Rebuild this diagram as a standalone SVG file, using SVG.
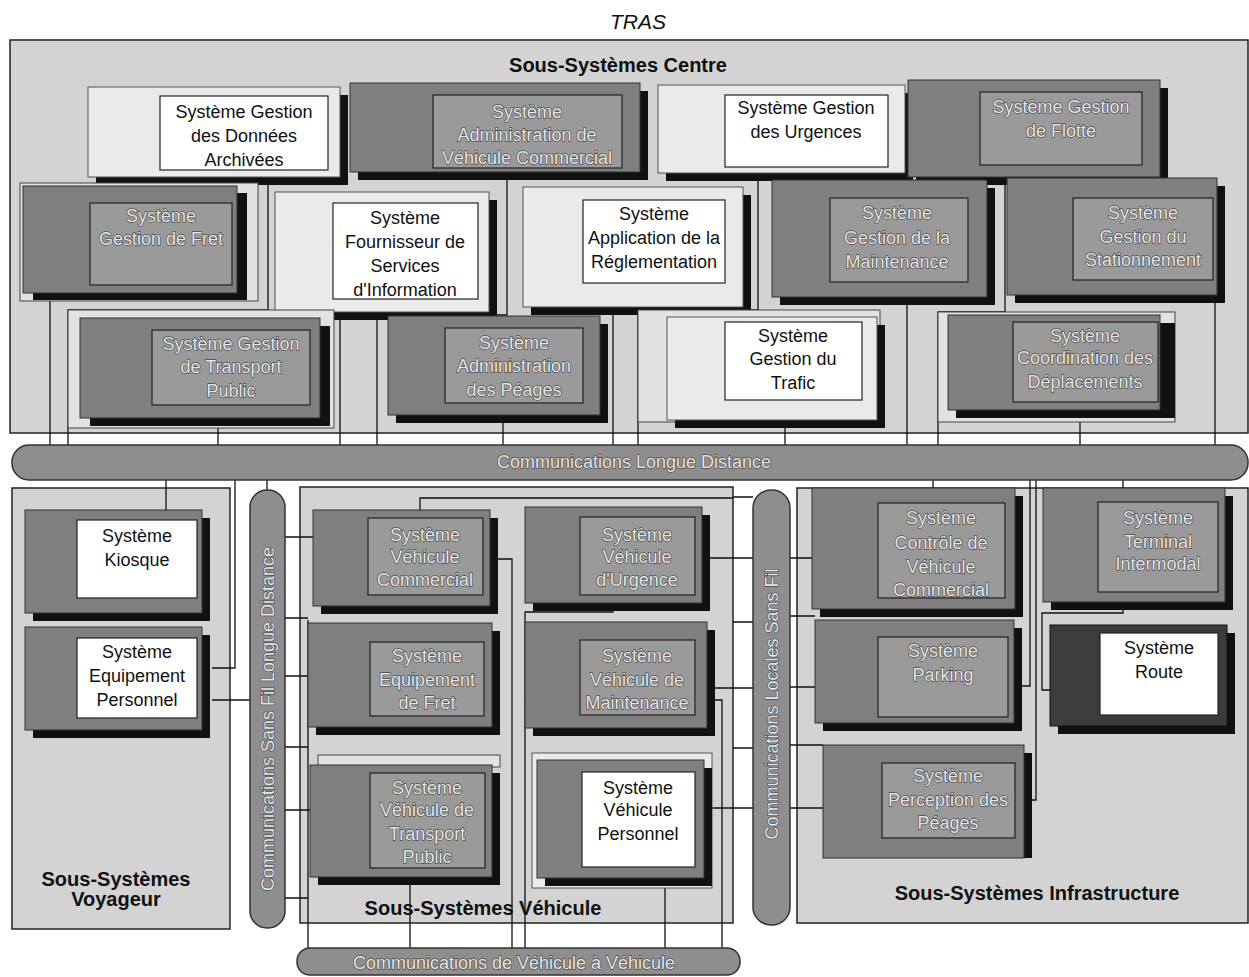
<svg xmlns="http://www.w3.org/2000/svg" width="1249" height="977" viewBox="0 0 1249 977">
<style>
.bg{fill:#ffffff}
.area{fill:#d3d3d3;stroke:#222;stroke-width:1.5}
.frame{fill:#e2e2e2;stroke:#444;stroke-width:1}
.pl{fill:#eaeaea;stroke:#555;stroke-width:1}
.pd{fill:#7f7f7f;stroke:#333;stroke-width:1}
.pk{fill:#3c3c3c;stroke:#111;stroke-width:1}
.sh{fill:#111}
.ind{fill:#9a9a9a;stroke:#222;stroke-width:1.2}
.inw{fill:#ffffff;stroke:#222;stroke-width:1.2}
.bus{fill:#8e8e8e;stroke:#333;stroke-width:1.5}
.tw{font-family:"Liberation Sans",Arial,sans-serif;font-size:18px;fill:#111;text-anchor:middle}
.tl{font-family:"Liberation Sans",Arial,sans-serif;font-size:18px;fill:#e6e6e6;stroke:#4a4a4a;stroke-width:1.3;paint-order:stroke;text-anchor:middle}
.tt{font-family:"Liberation Sans",Arial,sans-serif;font-size:20px;font-weight:bold;fill:#111;text-anchor:middle}
.ti{font-family:"Liberation Sans",Arial,sans-serif;font-size:21px;font-style:italic;fill:#111;text-anchor:middle}
.ln{fill:none;stroke:#111;stroke-width:1.3}
</style>
<rect class="bg" x="0" y="0" width="1249" height="977"/>
<text class="ti" x="638" y="29">TRAS</text>

<!-- Areas -->
<g id="area-centre">
<rect class="area" x="10" y="40" width="1238" height="393"/>
<text class="tt" x="618" y="72">Sous-Systèmes Centre</text>
</g>
<g id="area-voyageur">
<rect class="area" x="12" y="488" width="218" height="441"/>
<text class="tt" x="116" y="886">Sous-Systèmes</text>
<text class="tt" x="116" y="906">Voyageur</text>
</g>
<g id="area-vehicule">
<rect class="area" x="300" y="487" width="433" height="436"/>
<text class="tt" x="483" y="915">Sous-Systèmes Véhicule</text>
</g>
<g id="area-infra">
<rect class="area" x="797" y="488" width="451" height="435"/>
<text class="tt" x="1037" y="900">Sous-Systèmes Infrastructure</text>
</g>

<!-- Connectors -->
<g id="connectors">
<path class="ln" d="M50 300V445 M268 178V310H68V445 M218 418V445 M340 312V445 M507 180V315H377V445 M503 415V445 M613 307V445 M758 174V310H638V445 M785 400V445 M907 297V445 M1005 178V312H938V445 M1080 410V445 M1215 295V445"/>
<path class="ln" d="M166 480V510 M235 480V668H212 M267 480V490 M212 700H250"/>
<path class="ln" d="M933 480V488 M1123 480V488 M1030 480V686H1022 M1036 480V800H1032 M1123 610V613H1042V690H1050"/>
<path class="ln" d="M285 537H313 M285 618H308 M285 676H310 M285 747H308 M285 810H310 M285 898H308"/>
<path class="ln" d="M420 512V498H733 M733 497H753 M710 558H753 M733 622H753 M715 688H753 M733 748H753 M712 808H753"/>
<path class="ln" d="M790 558H812 M790 616H815 M790 687H815 M790 745H823 M790 808H823"/>
<path class="ln" d="M308 620V948 M410 883V948 M497 559H512V948 M613 608V612H525V948 M665 888V948 M715 700H722V948"/>
</g>

<!-- Buses -->
<g id="bus-longue">
<rect class="bus" x="12" y="445" width="1236" height="35" rx="17"/>
<text class="tl" x="634" y="468">Communications Longue Distance</text>
</g>
<g id="bus-sansfil">
<rect class="bus" x="250" y="490" width="35" height="438" rx="17"/>
<text class="tl" transform="translate(274 719) rotate(-90)">Communications Sans Fil Longue Distance</text>
</g>
<g id="bus-locales">
<rect class="bus" x="753" y="490" width="37" height="435" rx="18"/>
<text class="tl" transform="translate(778 704) rotate(-90)">Communications Locales Sans Fil</text>
</g>
<g id="bus-vv">
<rect class="bus" x="297" y="948" width="443" height="27" rx="13"/>
<text class="tl" x="514" y="969">Communications de Véhicule à Véhicule</text>
</g>

<!-- Centre nodes -->
<g id="n-archives">
<rect class="sh" x="96" y="95" width="252" height="90"/>
<rect class="pl" x="88" y="87" width="252" height="90"/>
<rect class="inw" x="160" y="96" width="168" height="74"/>
<text class="tw"><tspan x="244" y="118">Système Gestion</tspan><tspan x="244" y="142">des Données</tspan><tspan x="244" y="166">Archivées</tspan></text>
</g>
<g id="n-admin-vc">
<rect class="sh" x="358" y="91" width="290" height="89"/>
<rect class="pd" x="350" y="83" width="290" height="89"/>
<rect class="ind" x="433" y="95" width="189" height="73"/>
<text class="tl"><tspan x="527" y="118">Système</tspan><tspan x="527" y="141">Administration de</tspan><tspan x="527" y="164">Véhicule Commercial</tspan></text>
</g>
<g id="n-urgences">
<rect class="sh" x="666" y="93" width="247" height="88"/>
<rect class="pl" x="658" y="85" width="247" height="88"/>
<rect class="inw" x="725" y="95" width="163" height="72"/>
<text class="tw"><tspan x="806" y="114">Système Gestion</tspan><tspan x="806" y="138">des Urgences</tspan></text>
</g>
<g id="n-flotte">
<rect class="sh" x="916" y="88" width="252" height="97"/>
<rect class="pd" x="908" y="80" width="252" height="97"/>
<rect class="ind" x="980" y="92" width="162" height="73"/>
<text class="tl"><tspan x="1061" y="113">Système Gestion</tspan><tspan x="1061" y="137">de Flotte</tspan></text>
</g>
<g id="n-fret">
<rect class="frame" x="20" y="183" width="238" height="118"/>
<rect class="sh" x="33" y="193" width="214" height="107"/>
<rect class="pd" x="23" y="186" width="214" height="107"/>
<rect class="ind" x="90" y="203" width="142" height="82"/>
<text class="tl"><tspan x="161" y="222">Système</tspan><tspan x="161" y="245">Gestion de Fret</tspan></text>
</g>
<g id="n-fournisseur">
<rect class="sh" x="283" y="200" width="214" height="120"/>
<rect class="pl" x="275" y="192" width="214" height="120"/>
<rect class="inw" x="333" y="203" width="145" height="96"/>
<text class="tw"><tspan x="405" y="224">Système</tspan><tspan x="405" y="248">Fournisseur de</tspan><tspan x="405" y="272">Services</tspan><tspan x="405" y="296">d'Information</tspan></text>
</g>
<g id="n-application">
<rect class="sh" x="531" y="195" width="220" height="120"/>
<rect class="pl" x="523" y="187" width="220" height="120"/>
<rect class="inw" x="583" y="200" width="142" height="83"/>
<text class="tw"><tspan x="654" y="220">Système</tspan><tspan x="654" y="244">Application de la</tspan><tspan x="654" y="268">Réglementation</tspan></text>
</g>
<g id="n-maintenance">
<rect class="sh" x="780" y="188" width="215" height="117"/>
<rect class="pd" x="772" y="180" width="215" height="117"/>
<rect class="ind" x="830" y="198" width="138" height="84"/>
<text class="tl"><tspan x="897" y="219">Système</tspan><tspan x="897" y="244">Gestion de la</tspan><tspan x="897" y="268">Maintenance</tspan></text>
</g>
<g id="n-stationnement">
<rect class="sh" x="1015" y="186" width="210" height="117"/>
<rect class="pd" x="1007" y="178" width="210" height="117"/>
<rect class="ind" x="1073" y="198" width="140" height="82"/>
<text class="tl"><tspan x="1143" y="219">Système</tspan><tspan x="1143" y="243">Gestion du</tspan><tspan x="1143" y="266">Stationnement</tspan></text>
</g>
<g id="n-transport-public">
<rect class="frame" x="68" y="310" width="266" height="118"/>
<rect class="sh" x="90" y="326" width="240" height="100"/>
<rect class="pd" x="80" y="318" width="240" height="100"/>
<rect class="ind" x="152" y="330" width="158" height="75"/>
<text class="tl"><tspan x="231" y="350">Système Gestion</tspan><tspan x="231" y="373">de Transport</tspan><tspan x="231" y="397">Public</tspan></text>
</g>
<g id="n-admin-peages">
<rect class="sh" x="396" y="324" width="212" height="99"/>
<rect class="pd" x="388" y="316" width="212" height="99"/>
<rect class="ind" x="445" y="328" width="138" height="75"/>
<text class="tl"><tspan x="514" y="349">Système</tspan><tspan x="514" y="372">Administration</tspan><tspan x="514" y="396">des Péages</tspan></text>
</g>
<g id="n-trafic">
<rect class="frame" x="638" y="310" width="242" height="112"/>
<rect class="sh" x="675" y="325" width="210" height="103"/>
<rect class="pl" x="667" y="317" width="210" height="103"/>
<rect class="inw" x="725" y="322" width="137" height="78"/>
<text class="tw"><tspan x="793" y="342">Système</tspan><tspan x="793" y="365">Gestion du</tspan><tspan x="793" y="389">Trafic</tspan></text>
</g>
<g id="n-coordination">
<rect class="frame" x="938" y="312" width="237" height="110"/>
<rect class="sh" x="956" y="323" width="219" height="95"/>
<rect class="pd" x="948" y="315" width="212" height="95"/>
<rect class="ind" x="1013" y="322" width="145" height="80"/>
<text class="tl"><tspan x="1085" y="342">Système</tspan><tspan x="1085" y="364">Coordination des</tspan><tspan x="1085" y="388">Déplacements</tspan></text>
</g>

<!-- Voyageur nodes -->
<g id="n-kiosque">
<rect class="sh" x="33" y="518" width="177" height="103"/>
<rect class="pd" x="25" y="510" width="177" height="103"/>
<rect class="inw" x="77" y="520" width="120" height="78"/>
<text class="tw"><tspan x="137" y="542">Système</tspan><tspan x="137" y="566">Kiosque</tspan></text>
</g>
<g id="n-equip-perso">
<rect class="sh" x="33" y="635" width="177" height="103"/>
<rect class="pd" x="25" y="627" width="177" height="103"/>
<rect class="inw" x="77" y="638" width="120" height="80"/>
<text class="tw"><tspan x="137" y="658">Système</tspan><tspan x="137" y="682">Equipement</tspan><tspan x="137" y="706">Personnel</tspan></text>
</g>

<!-- Vehicle nodes -->
<g id="n-veh-commercial">
<rect class="sh" x="321" y="518" width="177" height="96"/>
<rect class="pd" x="313" y="510" width="177" height="96"/>
<rect class="ind" x="368" y="518" width="115" height="77"/>
<text class="tl"><tspan x="425" y="541">Système</tspan><tspan x="425" y="563">Véhicule</tspan><tspan x="425" y="586">Commercial</tspan></text>
</g>
<g id="n-veh-urgence">
<rect class="sh" x="533" y="515" width="177" height="96"/>
<rect class="pd" x="525" y="507" width="177" height="96"/>
<rect class="ind" x="580" y="517" width="115" height="78"/>
<text class="tl"><tspan x="637" y="541">Système</tspan><tspan x="637" y="563">Véhicule</tspan><tspan x="637" y="586">d'Urgence</tspan></text>
</g>
<g id="n-equip-fret">
<rect class="sh" x="316" y="631" width="184" height="104"/>
<rect class="pd" x="308" y="623" width="184" height="104"/>
<rect class="ind" x="370" y="642" width="114" height="74"/>
<text class="tl"><tspan x="427" y="662">Système</tspan><tspan x="427" y="686">Equipement</tspan><tspan x="427" y="709">de Fret</tspan></text>
</g>
<g id="n-veh-maintenance">
<rect class="sh" x="533" y="630" width="182" height="106"/>
<rect class="pd" x="525" y="622" width="182" height="106"/>
<rect class="ind" x="580" y="640" width="115" height="75"/>
<text class="tl"><tspan x="637" y="662">Système</tspan><tspan x="637" y="686">Véhicule de</tspan><tspan x="637" y="709">Maintenance</tspan></text>
</g>
<g id="n-veh-transport">
<rect class="frame" x="318" y="755" width="182" height="12"/>
<rect class="sh" x="318" y="773" width="182" height="112"/>
<rect class="pd" x="310" y="765" width="182" height="112"/>
<rect class="ind" x="370" y="773" width="115" height="95"/>
<text class="tl"><tspan x="427" y="794">Système</tspan><tspan x="427" y="816">Véhicule de</tspan><tspan x="427" y="840">Transport</tspan><tspan x="427" y="863">Public</tspan></text>
</g>
<g id="n-veh-personnel">
<rect class="pl" x="532" y="753" width="180" height="135"/>
<rect class="sh" x="545" y="768" width="167" height="118"/>
<rect class="pd" x="537" y="760" width="167" height="118"/>
<rect class="inw" x="582" y="772" width="113" height="95"/>
<text class="tw"><tspan x="638" y="794">Système</tspan><tspan x="638" y="816">Véhicule</tspan><tspan x="638" y="840">Personnel</tspan></text>
</g>

<!-- Infrastructure nodes -->
<g id="n-controle">
<rect class="sh" x="820" y="496" width="203" height="121"/>
<rect class="pd" x="812" y="488" width="203" height="121"/>
<rect class="ind" x="878" y="503" width="127" height="95"/>
<text class="tl"><tspan x="941" y="524">Système</tspan><tspan x="941" y="549">Contrôle de</tspan><tspan x="941" y="573">Véhicule</tspan><tspan x="941" y="596">Commercial</tspan></text>
</g>
<g id="n-terminal">
<rect class="sh" x="1051" y="496" width="182" height="114"/>
<rect class="pd" x="1043" y="488" width="182" height="114"/>
<rect class="ind" x="1098" y="502" width="120" height="90"/>
<text class="tl"><tspan x="1158" y="524">Système</tspan><tspan x="1158" y="548">Terminal</tspan><tspan x="1158" y="570">Intermodal</tspan></text>
</g>
<g id="n-parking">
<rect class="sh" x="823" y="628" width="199" height="103"/>
<rect class="pd" x="815" y="620" width="199" height="103"/>
<rect class="ind" x="878" y="637" width="130" height="80"/>
<text class="tl"><tspan x="943" y="657">Système</tspan><tspan x="943" y="681">Parking</tspan></text>
</g>
<g id="n-route">
<rect class="sh" x="1058" y="633" width="177" height="101"/>
<rect class="pk" x="1050" y="625" width="177" height="101"/>
<rect class="inw" x="1100" y="633" width="118" height="82"/>
<text class="tw"><tspan x="1159" y="654">Système</tspan><tspan x="1159" y="678">Route</tspan></text>
</g>
<g id="n-perception">
<rect class="sh" x="831" y="753" width="201" height="105"/>
<rect class="pd" x="823" y="745" width="201" height="113"/>
<rect class="ind" x="882" y="763" width="133" height="75"/>
<text class="tl"><tspan x="948" y="782">Système</tspan><tspan x="948" y="806">Perception des</tspan><tspan x="948" y="829">Péages</tspan></text>
</g>
</svg>
